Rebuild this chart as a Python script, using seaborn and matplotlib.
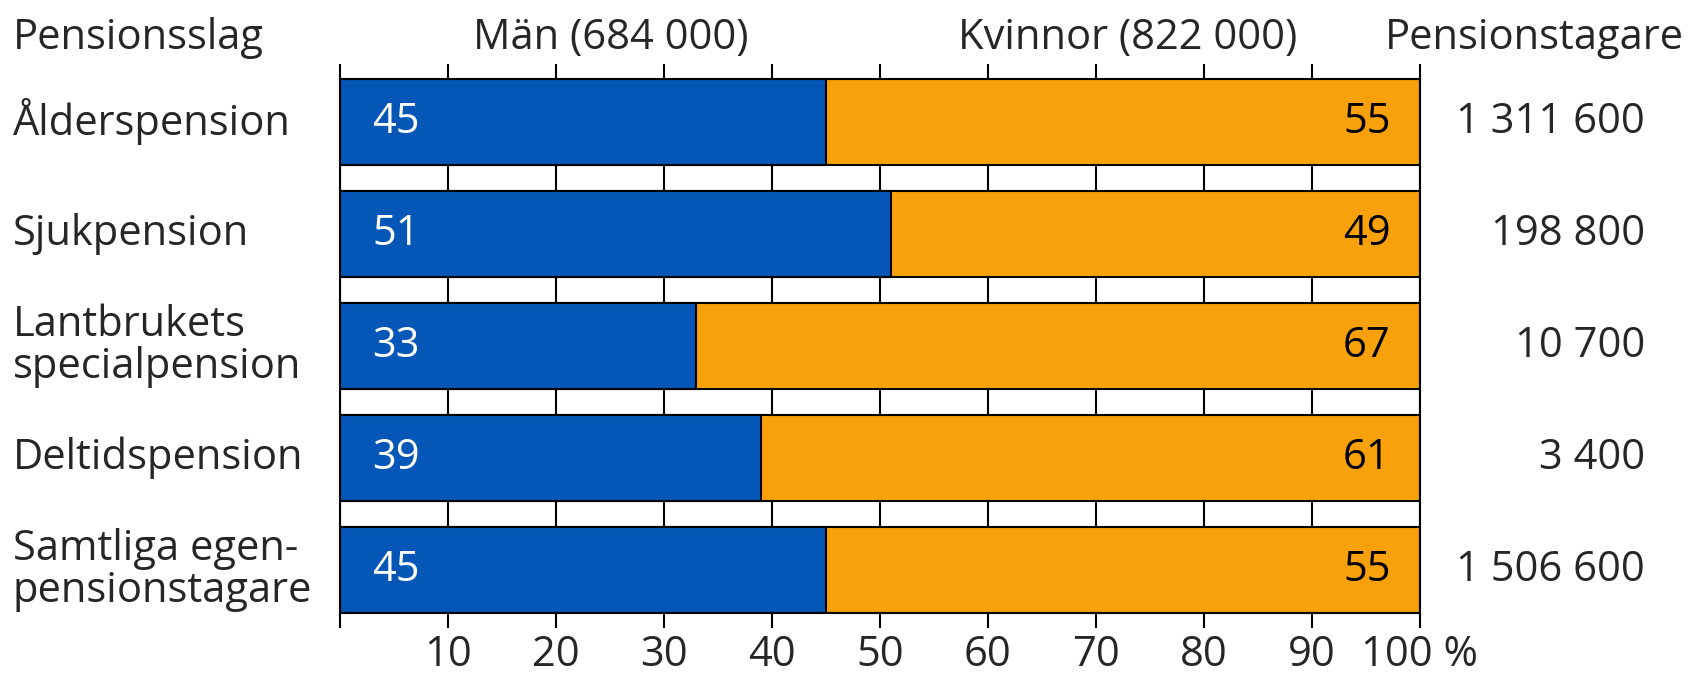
"""Pensionstagare efter kön och pensionsslag - stacked 100 % bars."""
import numpy as np
import pandas as pd
import matplotlib
matplotlib.use("Agg")
import matplotlib.pyplot as plt
import matplotlib.transforms as mtransforms
import seaborn as sns

categories = ["Ålderspension", "Sjukpension", "Lantbrukets\nspecialpension",
              "Deltidspension", "Samtliga egen-\npensionstagare"]
men_pct = [45, 51, 33, 39, 45]
women_pct = [55, 49, 67, 61, 55]
recipients = ["1 311 600", "198 800", "10 700", "3 400", "1 506 600"]
x_ticks = [10, 20, 30, 40, 50, 60, 70, 80, 90, 100]
x_ticklabels = ["10", "20", "30", "40", "50", "60", "70", "80", "90", "100 %"]

BLUE = "#0457b7"
ORANGE = "#f9a10a"
FS = 30

sns.set_theme(style="white")
plt.rcParams["font.family"] = ["Open Sans", "DejaVu Sans"]

df = pd.DataFrame({"cat": categories, "men": men_pct, "women": women_pct})
df["total"] = df["men"] + df["women"]

fig = plt.figure(figsize=(16.89, 6.76), dpi=100)
ax = fig.add_axes([340 / 1689, 1 - 613 / 676, 1080 / 1689, (613 - 78.6) / 676])

bar_h = 0.77
sns.barplot(data=df, y="cat", x="total", color=ORANGE, orient="h", width=bar_h,
            edgecolor="black", linewidth=1.5, saturation=1, ax=ax)
sns.barplot(data=df, y="cat", x="men", color=BLUE, orient="h", width=bar_h,
            edgecolor="black", linewidth=1.5, saturation=1, ax=ax)

ax.set_xlim(0, 100)
ax.set_ylim(len(categories) - 1 + bar_h / 2, -bar_h / 2)
ax.set_xlabel("")
ax.set_ylabel("")
ax.set_yticks([])
ax.set_xticks([0] + x_ticks)
ax.set_xticklabels([""] + x_ticklabels, fontsize=FS)
ax.tick_params(axis="x", which="both", top=True, bottom=True, labeltop=False,
               direction="out", length=11, width=1.5, color="black", pad=4)
ax.set_axisbelow(True)
ax.grid(axis="x", color="black", linewidth=1.5)
for s in ax.spines.values():
    s.set_color("black")
    s.set_linewidth(1.5)

# values inside bars
for i, (m, w) in enumerate(zip(men_pct, women_pct)):
    ax.text(3, i, f"{m}", color="white", fontsize=FS, ha="left", va="center")
    ax.text(97.3, i, f"{w}", color="black", fontsize=FS, ha="right", va="center")

# category labels and recipient counts
tr = mtransforms.blended_transform_factory(fig.transFigure, ax.transData)
for i, (c, r) in enumerate(zip(categories, recipients)):
    fig.text(13 / 1689, i, c, transform=tr, fontsize=FS, ha="left", va="center",
             linespacing=1.0)
    fig.text(1645 / 1689, i, r, transform=tr, fontsize=FS, ha="right", va="center")

# header row
hy = 1 - 38 / 676
fig.text(13 / 1689, hy, "Pensionsslag", fontsize=FS, ha="left", va="center")
fig.text(611 / 1689, hy, "Män (684 000)", fontsize=FS, ha="center", va="center")
fig.text(1128 / 1689, hy, "Kvinnor (822 000)", fontsize=FS, ha="center", va="center")
fig.text(1684 / 1689, hy, "Pensionstagare", fontsize=FS, ha="right", va="center")

fig.savefig("out.png", dpi=100, facecolor="white")
